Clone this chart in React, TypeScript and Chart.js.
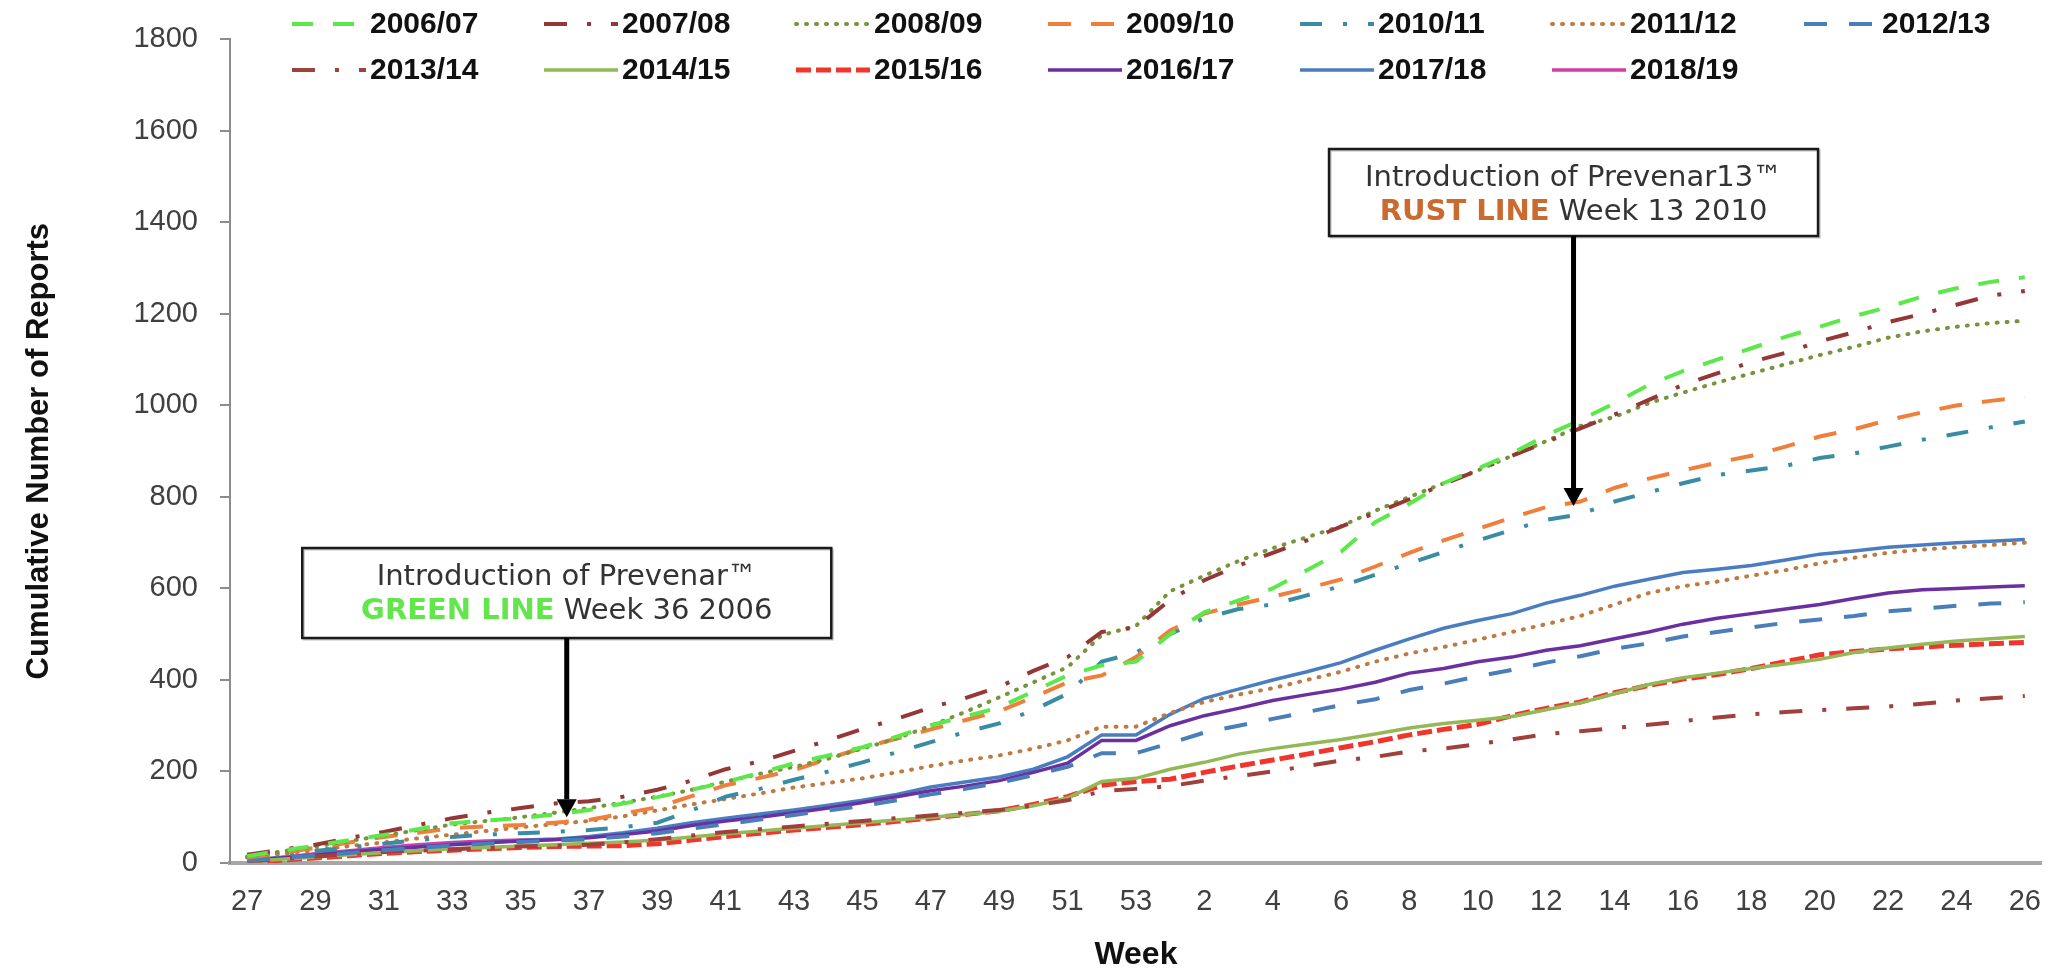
import React, { useEffect, useRef } from 'react';
import { Chart, registerables } from 'chart.js';

Chart.register(...registerables);

// ---- Data -------------------------------------------------------------
const WEEKS = [
  '27', '28', '29', '30', '31', '32', '33', '34', '35', '36', '37', '38', '39', '40',
  '41', '42', '43', '44', '45', '46', '47', '48', '49', '50', '51', '52', '53',
  '1', '2', '3', '4', '5', '6', '7', '8', '9', '10', '11', '12', '13', '14',
  '15', '16', '17', '18', '19', '20', '21', '22', '23', '24', '25', '26',
];

const SEASONS = [
  '2006/07', '2007/08', '2008/09', '2009/10', '2010/11', '2011/12', '2012/13',
  '2013/14', '2014/15', '2015/16', '2016/17', '2017/18', '2018/19',
];

const s2006_07 = [15, 27, 38, 50, 61, 74, 87, 93, 98, 106, 116, 130, 144, 160, 177, 197, 218, 235, 253, 276, 301, 320, 340, 375, 410, 432, 440,
  500, 548, 574, 600, 640, 680, 745, 785, 830, 862, 895, 935, 968, 1005, 1045, 1075, 1100, 1125, 1150, 1172, 1195, 1215, 1238, 1256, 1270, 1280];
const s2007_08 = [18, 29, 40, 55, 68, 83, 98, 110, 120, 130, 135, 145, 160, 180, 205, 222, 245, 268, 293, 315, 340, 360, 385, 420, 450, 505, 515,
  575, 618, 650, 678, 705, 735, 765, 795, 828, 858, 890, 920, 950, 980, 1012, 1045, 1070, 1095, 1115, 1140, 1160, 1182, 1200, 1220, 1240, 1250];
const s2008_09 = [14, 25, 36, 48, 60, 72, 84, 92, 100, 110, 120, 132, 145, 160, 178, 195, 210, 228, 250, 272, 300, 330, 362, 395, 428, 498, 518,
  594, 628, 660, 688, 712, 736, 770, 800, 830, 858, 890, 922, 955, 975, 1005, 1028, 1050, 1070, 1090, 1110, 1128, 1148, 1162, 1172, 1180, 1185];
const s2009_10 = [12, 22, 33, 45, 57, 66, 76, 80, 83, 88, 94, 108, 122, 146, 170, 186, 203, 228, 252, 272, 292, 312, 332, 362, 395, 410, 450,
  508, 545, 565, 582, 600, 620, 648, 678, 705, 730, 755, 778, 790, 820, 840, 858, 875, 890, 910, 932, 948, 968, 985, 1000, 1010, 1018];
const s2010_11 = [10, 18, 26, 34, 42, 50, 57, 62, 65, 68, 72, 78, 88, 115, 145, 162, 182, 200, 220, 242, 264, 286, 305, 334, 370, 440, 460,
  500, 535, 555, 565, 585, 605, 630, 655, 680, 705, 728, 750, 762, 790, 810, 830, 848, 858, 868, 885, 895, 910, 925, 938, 952, 965];
const s2011_12 = [12, 20, 28, 37, 45, 54, 62, 70, 78, 85, 92, 102, 115, 128, 140, 152, 165, 175, 185, 198, 212, 224, 235, 250, 268, 298, 298,
  328, 352, 368, 382, 400, 418, 440, 458, 472, 488, 505, 522, 540, 565, 590, 605, 615, 628, 640, 655, 667, 678, 685, 690, 695, 700];
const s2012_13 = [5, 11, 16, 22, 28, 33, 38, 42, 46, 49, 52, 58, 65, 75, 85, 95, 105, 115, 125, 137, 150, 162, 175, 192, 210, 240, 240,
  262, 285, 300, 315, 330, 345, 358, 378, 392, 408, 422, 438, 452, 468, 480, 495, 505, 515, 525, 532, 540, 550, 556, 562, 567, 570];
const s2013_14 = [4, 9, 14, 19, 24, 27, 30, 33, 36, 38, 40, 45, 52, 60, 68, 74, 80, 86, 92, 98, 104, 110, 116, 125, 137, 157, 162,
  168, 180, 190, 200, 212, 224, 232, 244, 250, 260, 270, 282, 288, 295, 302, 310, 318, 325, 330, 334, 338, 342, 348, 355, 360, 365];
const s2014_15 = [3, 8, 13, 18, 23, 27, 31, 34, 37, 40, 43, 46, 50, 57, 64, 70, 76, 82, 88, 94, 100, 106, 113, 125, 142, 178, 185,
  205, 220, 238, 250, 260, 270, 282, 295, 305, 312, 320, 335, 350, 370, 390, 405, 415, 425, 435, 445, 460, 470, 478, 485, 490, 495];
const s2015_16 = [2, 6, 11, 16, 21, 25, 28, 31, 34, 36, 37, 38, 42, 50, 58, 65, 72, 78, 84, 91, 98, 106, 114, 128, 145, 170, 178,
  183, 198, 212, 225, 238, 252, 265, 280, 292, 303, 322, 338, 352, 372, 388, 402, 412, 425, 440, 455, 462, 468, 472, 476, 479, 482];
const s2016_17 = [5, 11, 17, 24, 30, 35, 40, 44, 48, 51, 55, 62, 70, 82, 92, 100, 110, 120, 132, 145, 158, 168, 180, 198, 218, 268, 268,
  300, 322, 338, 355, 368, 380, 395, 415, 425, 440, 450, 465, 475, 490, 505, 522, 535, 545, 555, 565, 578, 590, 597, 600, 603, 606];
const s2017_18 = [6, 12, 18, 25, 31, 36, 41, 45, 49, 52, 58, 66, 76, 88, 98, 107, 116, 126, 137, 150, 166, 177, 188, 205, 232, 280, 280,
  325, 360, 380, 400, 418, 438, 465, 490, 513, 530, 545, 568, 585, 605, 620, 635, 642, 650, 662, 675, 682, 690, 695, 700, 703, 707];
const s2018_19 = [5, 12, 20, 27, 34, 40, 45, 48, 50, 52];

const SERIES = [s2006_07, s2007_08, s2008_09, s2009_10, s2010_11, s2011_12, s2012_13,
  s2013_14, s2014_15, s2015_16, s2016_17, s2017_18, s2018_19];

const Y_TICKS_MAX = 1800;
const Y_STEP = 200;

// annotation anchors (category index, value)
const NOTE1 = { index: 9.35, value: 100, l1: 'Introduction of Prevenar\u2122', tag: 'GREEN LINE', rest: ' Week 36 2006', tagColor: '#63E64C' };
const NOTE2 = { index: 38.8, value: 780, l1: 'Introduction of Prevenar13\u2122', tag: 'RUST LINE', rest: ' Week 13 2010', tagColor: '#CB6A2E' };

// ---- Styles ------------------------------------------------------------
const STYLES = [
  { color: '#5CE84A', width: 4, dash: [21, 20], cap: 'butt' },
  { color: '#953735', width: 4, dash: [23, 20, 4, 20], cap: 'butt' },
  { color: '#77933C', width: 4, dash: [1, 9], cap: 'round' },
  { color: '#EF7F3A', width: 4, dash: [23, 20], cap: 'butt' },
  { color: '#3A8CA4', width: 4, dash: [22, 21, 4, 21], cap: 'butt' },
  { color: '#BF7A42', width: 4, dash: [1, 9], cap: 'round' },
  { color: '#4A7EBB', width: 4, dash: [23, 22], cap: 'butt' },
  { color: '#A0403C', width: 4, dash: [23, 20, 4, 20], cap: 'butt' },
  { color: '#93B957', width: 3.5, dash: [], cap: 'butt' },
  { color: '#F0362C', width: 5, dash: [15, 5], cap: 'butt' },
  { color: '#6B2FA0', width: 3.5, dash: [], cap: 'butt' },
  { color: '#4A7DC0', width: 3.5, dash: [], cap: 'butt' },
  { color: '#D23DA5', width: 3.5, dash: [], cap: 'butt' },
];

const LEGEND_X0 = 292;
const LEGEND_DX = 252;
const LEGEND_ROWS_Y = [24, 70];

const legendPlugin = {
  id: 'gridLegend',
  afterDraw(chart: any) {
    const ctx = chart.ctx as CanvasRenderingContext2D;
    ctx.save();
    chart.data.datasets.forEach((ds: any, i: number) => {
      const row = i < 7 ? 0 : 1;
      const col = i < 7 ? i : i - 7;
      const x = LEGEND_X0 + col * LEGEND_DX;
      const y = LEGEND_ROWS_Y[row];
      ctx.beginPath();
      ctx.setLineDash(ds.borderDash || []);
      ctx.lineCap = ds.borderCapStyle || 'butt';
      ctx.strokeStyle = ds.borderColor;
      ctx.lineWidth = ds.borderWidth;
      ctx.moveTo(x, y);
      ctx.lineTo(x + 74, y);
      ctx.stroke();
      ctx.setLineDash([]);
      ctx.fillStyle = '#111111';
      ctx.font = 'bold 30px "Liberation Sans", Arial, sans-serif';
      ctx.textBaseline = 'middle';
      ctx.textAlign = 'left';
      ctx.fillText(ds.label, x + 78, y + 1);
    });
    ctx.restore();
  },
};

const notesPlugin = {
  id: 'introNotes',
  afterDraw(chart: any) {
    const ctx = chart.ctx as CanvasRenderingContext2D;
    const xs = chart.scales.x;
    const ys = chart.scales.y;
    const boxes = [
      { note: NOTE1, top: 548, w: 529, h: 90 },
      { note: NOTE2, top: 149, w: 489, h: 87 },
    ];
    ctx.save();
    boxes.forEach(({ note, top, w, h }) => {
      const ax = xs.getPixelForValue(note.index);
      const tipY = ys.getPixelForValue(note.value);
      const left = ax - w / 2;
      // box
      ctx.fillStyle = '#ffffff';
      ctx.fillRect(left, top, w, h);
      ctx.strokeStyle = 'rgba(0,0,0,0.25)';
      ctx.lineWidth = 2;
      ctx.strokeRect(left + 1.5, top + 1.5, w, h);
      ctx.strokeStyle = '#1a1a1a';
      ctx.lineWidth = 2.5;
      ctx.strokeRect(left, top, w, h);
      // text
      ctx.textBaseline = 'middle';
      ctx.textAlign = 'left';
      const reg = '29px "DejaVu Sans", Verdana, sans-serif';
      const bold = 'bold 29px "DejaVu Sans", Verdana, sans-serif';
      ctx.font = reg;
      const w1 = ctx.measureText(note.l1).width;
      ctx.fillStyle = '#333333';
      ctx.fillText(note.l1, ax - w1 / 2, top + 29);
      ctx.font = bold;
      const wt = ctx.measureText(note.tag).width;
      ctx.font = reg;
      const wr = ctx.measureText(note.rest).width;
      const sx = ax - (wt + wr) / 2;
      ctx.font = bold;
      ctx.fillStyle = note.tagColor;
      ctx.fillText(note.tag, sx, top + 63);
      ctx.font = reg;
      ctx.fillStyle = '#333333';
      ctx.fillText(note.rest, sx + wt, top + 63);
      // arrow
      const head = 18;
      ctx.fillStyle = '#000000';
      ctx.fillRect(ax - 2.5, top + h, 5, tipY - head - (top + h));
      ctx.beginPath();
      ctx.moveTo(ax - 10, tipY - head);
      ctx.lineTo(ax + 10, tipY - head);
      ctx.lineTo(ax, tipY);
      ctx.closePath();
      ctx.fill();
    });
    ctx.restore();
  },
};

export default function App() {
  const ref = useRef<HTMLCanvasElement>(null);

  useEffect(() => {
    const canvas = ref.current;
    if (!canvas) return;
    const datasets = SEASONS.map((label, i) => ({
      label,
      data: SERIES[i],
      borderColor: STYLES[i].color,
      backgroundColor: STYLES[i].color,
      borderWidth: STYLES[i].width,
      borderDash: STYLES[i].dash,
      borderCapStyle: STYLES[i].cap as CanvasLineCap,
      pointRadius: 0,
      pointHoverRadius: 0,
      fill: false,
      tension: 0,
    }));

    const chart = new Chart(canvas, {
      type: 'line',
      data: { labels: WEEKS, datasets },
      plugins: [legendPlugin, notesPlugin],
      options: {
        animation: false,
        responsive: true,
        maintainAspectRatio: false,
        devicePixelRatio: 1,
        layout: { padding: { top: 35, right: 8, bottom: 0, left: 0 } },
        plugins: {
          legend: { display: false },
          tooltip: { enabled: false },
        },
        scales: {
          x: {
            type: 'category',
            offset: true,
            grid: { display: true, drawOnChartArea: false, drawTicks: false, color: 'rgba(0,0,0,0)' },
            border: { display: true, color: '#A6A6A6', width: 4 },
            ticks: {
              autoSkip: false,
              maxRotation: 0,
              minRotation: 0,
              padding: 22,
              color: '#404040',
              font: { family: '"Liberation Sans", Arial, sans-serif', size: 29 },
              callback: (_v: any, index: number) => (index % 2 === 0 ? WEEKS[index] : ''),
            },
            title: {
              display: true,
              text: 'Week',
              color: '#111111',
              font: { family: '"Liberation Sans", Arial, sans-serif', size: 32, weight: 'bold', lineHeight: 1 },
              padding: { top: 0, bottom: 0 },
            },
            afterFit: (scale: any) => { scale.height = 108; },
          },
          y: {
            min: 0,
            max: Y_TICKS_MAX,
            grid: { display: true, drawOnChartArea: false, drawTicks: true, tickLength: 10, color: '#8C8C8C', lineWidth: 2 },
            border: { display: true, color: '#8C8C8C', width: 2 },
            ticks: {
              stepSize: Y_STEP,
              padding: 22,
              color: '#404040',
              font: { family: '"Liberation Sans", Arial, sans-serif', size: 29 },
              callback: (v: any) => String(v),
            },
            title: {
              display: true,
              text: 'Cumulative Number of Reports',
              color: '#111111',
              font: { family: '"Liberation Sans", Arial, sans-serif', size: 31, weight: 'bold', lineHeight: 1.2 },
              padding: { top: 21, bottom: 0 },
            },
            afterFit: (scale: any) => { scale.width = 230; },
          },
        },
      },
    });
    return () => chart.destroy();
  }, []);

  return (
    <div style={{ position: 'fixed', left: 0, top: 0, width: '2063px', height: '971px', background: '#ffffff' }}>
      <canvas ref={ref} />
    </div>
  );
}
